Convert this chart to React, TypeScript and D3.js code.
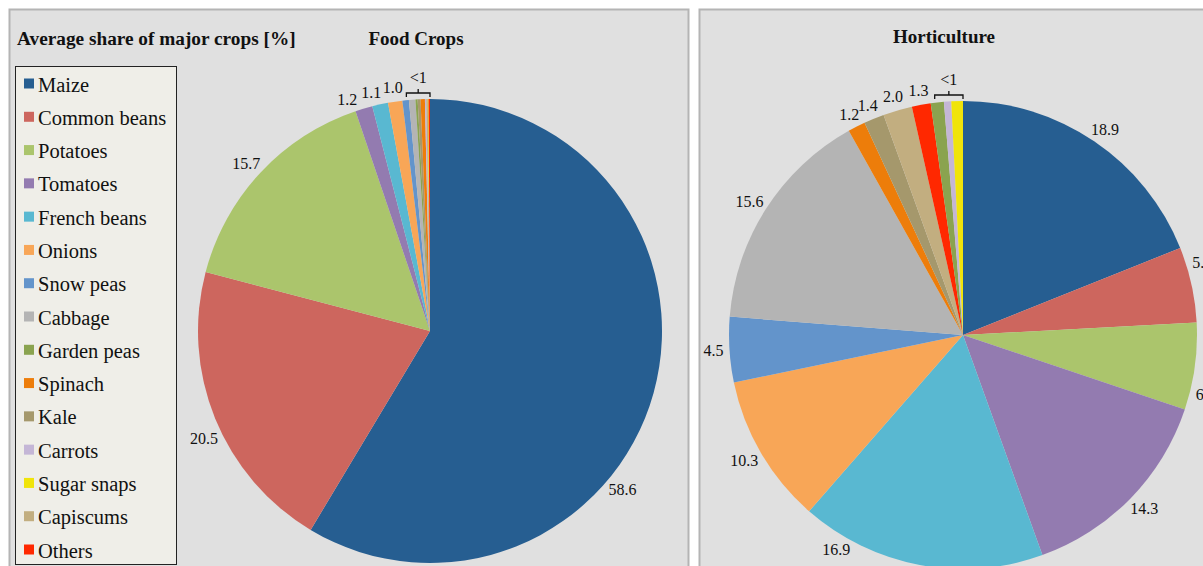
import React from "react";
import * as d3 from "d3";

const categories = ["Maize", "Common beans", "Potatoes", "Tomatoes", "French beans", "Onions", "Snow peas", "Cabbage", "Garden peas", "Spinach", "Kale", "Carrots", "Sugar snaps", "Capiscums", "Others"];
const categoryColors = ["#265e91", "#cd665e", "#abc56c", "#937bb0", "#59b8d1", "#f8a657", "#6394cb", "#b4b4b4", "#8aa34f", "#ed7d0a", "#a5986c", "#c4b6d6", "#f0e40a", "#c2ae80", "#ff2800"];

const foodOrder = ["Maize", "Common beans", "Potatoes", "Tomatoes", "French beans", "Onions", "Snow peas", "Cabbage", "Garden peas", "Kale", "Spinach", "Carrots", "Capiscums", "Sugar snaps", "Others"];
const foodValues = [58.6, 20.5, 15.7, 1.2, 1.1, 1.0, 0.45, 0.45, 0.15, 0.2, 0.3, 0.1, 0.1, 0.05, 0.1];

const hortOrder = ["Maize", "Common beans", "Potatoes", "Tomatoes", "French beans", "Onions", "Snow peas", "Cabbage", "Spinach", "Kale", "Capiscums", "Others", "Garden peas", "Carrots", "Sugar snaps"];
const hortValues = [18.9, 5.2, 6.0, 14.3, 16.9, 10.3, 4.5, 15.6, 1.2, 1.4, 2.0, 1.3, 0.9, 0.5, 0.8];

// label angles (degrees) where the original chart moved a label away from its slice middle
const foodLabelAngles: Record<string, number> = { Maize: 130, "Common beans": 244, Tomatoes: 340.5, "French beans": 346.3 };
const hortLabelAngles: Record<string, number> = { "Common beans": 73, Potatoes: 104, "French beans": 210 };

const mainTitle = "Average share of major crops [%]";
const foodTitle = "Food Crops";
const hortTitle = "Horticulture";
const smallLabel = "<1";

const color = d3.scaleOrdinal<string, string>().domain(categories).range(categoryColors);
const FONT = "'Liberation Serif', 'Times New Roman', serif";
const LABEL_SIZE = 16;

type PieProps = {
  names: string[];
  values: number[];
  cx: number;
  cy: number;
  r: number;
  labelAngles?: Record<string, number>;
};

function Pie({ names, values, cx, cy, r, labelAngles = {} }: PieProps) {
  const data = names.map((n, i) => ({ name: n, value: values[i] }));
  const pie = d3.pie<{ name: string; value: number }>().sort(null).value((d) => d.value);
  const arcs = pie(data);
  const arc = d3.arc<d3.PieArcDatum<{ name: string; value: number }>>().innerRadius(0).outerRadius(r);
  const small = arcs.filter((a) => a.data.value < 1);
  const a0 = d3.min(small, (a) => a.startAngle) ?? 0;
  const a1 = d3.max(small, (a) => a.endAngle) ?? 0;
  const bx0 = Math.sin(a0) * r + 4;
  const bx1 = Math.sin(a1) * r;
  const by = -r - 6;
  const bmid = (bx0 + bx1) / 2;
  return (
    <g transform={`translate(${cx},${cy})`}>
      {arcs.map((a, i) => (
        <path key={i} d={arc(a) ?? ""} fill={color(a.data.name)} />
      ))}
      {arcs
        .filter((a) => a.data.value >= 1)
        .map((a, i) => {
          const mid = labelAngles[a.data.name] !== undefined
            ? (labelAngles[a.data.name] * Math.PI) / 180
            : (a.startAngle + a.endAngle) / 2;
          const txt = a.data.value.toFixed(1);
          const w = txt.length * LABEL_SIZE * 0.42;
          const h = LABEL_SIZE;
          const lr = r + 6;
          const x = Math.sin(mid) * lr + (Math.sin(mid) * w) / 2;
          const y = -Math.cos(mid) * lr - (Math.cos(mid) * h) / 2;
          return (
            <text
              key={i}
              x={x}
              y={y}
              textAnchor="middle"
              dominantBaseline="central"
              fontSize={LABEL_SIZE}
              fontFamily={FONT}
              fill="#111"
            >
              {txt}
            </text>
          );
        })}
      {small.length > 0 && (
        <g>
          <path
            d={`M${bx0},${by + 4} L${bx0},${by} L${bx1},${by} L${bx1},${by + 4} M${bmid},${by} L${bmid},${by - 4}`}
            fill="none"
            stroke="#111"
            strokeWidth={1.3}
          />
          <text x={bmid} y={by - 10} textAnchor="middle" fontSize={LABEL_SIZE} fontFamily={FONT} fill="#111">
            {smallLabel}
          </text>
        </g>
      )}
    </g>
  );
}

export default function App() {
  const W = 1203;
  const H = 566;
  const legendY = d3.scaleLinear().domain([0, categories.length - 1]).range([84.5, 550.5]);
  return (
    <div style={{ position: "fixed", left: 0, top: 0, width: W, height: H, background: "#fff" }}>
      <svg width={W} height={H} style={{ display: "block" }}>
        <rect x={0} y={0} width={W} height={H} fill="#fff" />
        <rect x={9.5} y={9.5} width={679} height={580} fill="#e0e0e0" stroke="#b4b4b4" strokeWidth={2} />
        <rect x={699.5} y={9.5} width={540} height={580} fill="#e0e0e0" stroke="#b4b4b4" strokeWidth={2} />

        <text x={17} y={45} fontSize={19.3} fontWeight="bold" fontFamily={FONT} fill="#111">{mainTitle}</text>
        <text x={416} y={45} fontSize={19} fontWeight="bold" fontFamily={FONT} fill="#111" textAnchor="middle">{foodTitle}</text>
        <text x={944} y={43} fontSize={19} fontWeight="bold" fontFamily={FONT} fill="#111" textAnchor="middle">{hortTitle}</text>

        <rect x={15.5} y={66.5} width={161} height={498} fill="#efeee8" stroke="#222" strokeWidth={1} />
        {categories.map((c, i) => (
          <g key={c} transform={`translate(0,${legendY(i)})`}>
            <rect x={24} y={-6} width={10} height={10} fill={color(c)} />
            <text x={38} y={0} dominantBaseline="central" fontSize={20.5} fontFamily={FONT} fill="#111">{c}</text>
          </g>
        ))}

        <Pie names={foodOrder} values={foodValues} cx={430} cy={331} r={232} labelAngles={foodLabelAngles} />
        <Pie names={hortOrder} values={hortValues} cx={963} cy={335} r={234} labelAngles={hortLabelAngles} />
      </svg>
    </div>
  );
}
